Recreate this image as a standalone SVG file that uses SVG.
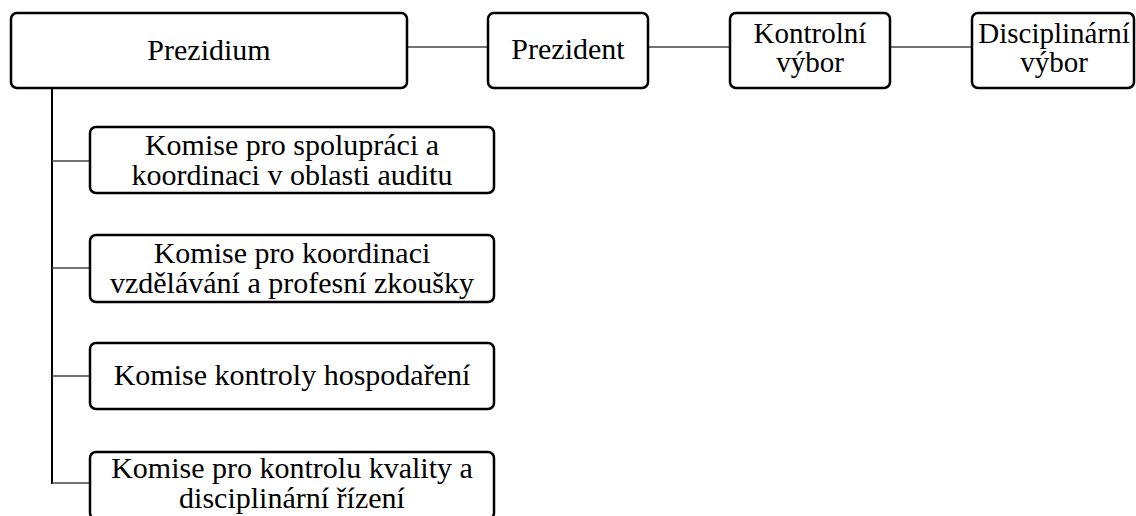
<svg xmlns="http://www.w3.org/2000/svg" width="1136" height="516" viewBox="0 0 1136 516">
<style>
.box{fill:#fff;stroke:#000;stroke-width:2.5}
.t{font-family:"Liberation Serif","Times New Roman","DejaVu Serif",serif;font-size:30px;fill:#000;text-anchor:middle}
.s{font-size:29px}
.c{stroke:#444;stroke-width:1.6;fill:none}
.v{stroke:#000;stroke-width:2;fill:none}
</style>
<rect width="1136" height="516" fill="#fff"/>
<g id="connectors">
<line class="c" x1="407" y1="47" x2="488" y2="47"/>
<line class="c" x1="648" y1="47" x2="730" y2="47"/>
<line class="c" x1="890" y1="47" x2="972" y2="47"/>
<line class="v" x1="52" y1="88" x2="52" y2="484"/>
<line class="c" x1="52" y1="161" x2="90" y2="161"/>
<line class="c" x1="52" y1="268" x2="90" y2="268"/>
<line class="c" x1="52" y1="376" x2="90" y2="376"/>
<line class="c" x1="52" y1="483" x2="90" y2="483"/>
</g>
<g id="prezidium">
<rect class="box" x="11" y="13" width="396" height="75" rx="6"/>
<text class="t" x="209" y="60">Prezidium</text>
</g>
<g id="prezident">
<rect class="box" x="488" y="13" width="160" height="75" rx="6"/>
<text class="t" x="568" y="59">Prezident</text>
</g>
<g id="kontrolni">
<rect class="box" x="730" y="13" width="160" height="75" rx="6"/>
<text class="t s" x="810" y="43">Kontrolní</text>
<text class="t s" x="810" y="72">výbor</text>
</g>
<g id="disciplinarni">
<rect class="box" x="972" y="13" width="162" height="75" rx="6"/>
<text class="t s" x="1054" y="43">Disciplinární</text>
<text class="t s" x="1054" y="72">výbor</text>
</g>
<g id="komise1">
<rect class="box" x="90" y="127" width="404" height="66" rx="6"/>
<text class="t" x="292" y="155">Komise pro spolupráci a</text>
<text class="t" x="292" y="185">koordinaci v oblasti auditu</text>
</g>
<g id="komise2">
<rect class="box" x="90" y="235" width="404" height="67" rx="6"/>
<text class="t" x="292" y="263">Komise pro koordinaci</text>
<text class="t" x="292" y="293">vzdělávání a profesní zkoušky</text>
</g>
<g id="komise3">
<rect class="box" x="90" y="343" width="404" height="66" rx="6"/>
<text class="t" x="292" y="385">Komise kontroly hospodaření</text>
</g>
<g id="komise4">
<rect class="box" x="90" y="452" width="404" height="67" rx="6"/>
<text class="t" x="292" y="478">Komise pro kontrolu kvality a</text>
<text class="t" x="292" y="508">disciplinární řízení</text>
</g>
</svg>
